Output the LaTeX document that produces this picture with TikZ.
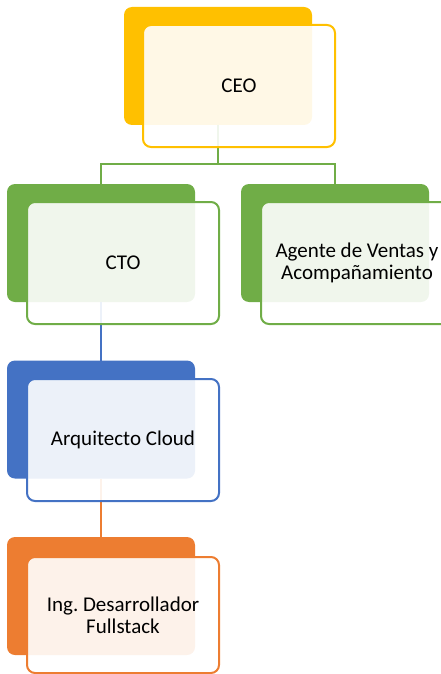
\documentclass[tikz,border=0pt]{standalone}
\usepackage{fontspec}
\setmainfont{Carlito}
\definecolor{cgold}{HTML}{FFC000}
\definecolor{cgreen}{HTML}{70AD47}
\definecolor{cblue}{HTML}{4472C4}
\definecolor{corange}{HTML}{ED7D31}
\begin{document}
\begin{tikzpicture}[x=1pt,y=-1pt,
  backbox/.style={rectangle, rounded corners=8pt, fill=#1, draw=none,
    minimum width=188pt, minimum height=118pt, inner sep=0pt, outer sep=0pt},
  frontbox/.style={rectangle, rounded corners=8pt, draw=#1, line width=2pt,
    fill=white, fill opacity=0.9, text opacity=1, text=black,
    minimum width=192pt, minimum height=122pt, inner sep=2pt, outer sep=0pt,
    align=center, font=\fontsize{21}{22}\selectfont},
  link/.style={draw=#1, line width=2pt}]
\useasboundingbox (0,0) rectangle (441,674);
\clip (0,0) rectangle (441,674);

% coloured back cards
\node[backbox=cgold]   (ceoB) at (218,66)    {};
\node[backbox=cgreen]  (ctoB) at (101,243)   {};
\node[backbox=cgreen]  (agB)  at (335,243)   {};
\node[backbox=cblue]   (arqB) at (101,419.5) {};
\node[backbox=corange] (ingB) at (101,596)   {};

% reporting lines
\draw[link=cgreen]  (ceoB.south) -- ++(0,39) -| (ctoB.north);
\draw[link=cgreen]  (ceoB.south) -- ++(0,39) -| (agB.north);
\draw[link=cblue]   (ctoB.south) -- (arqB.north);
\draw[link=corange] (arqB.south) -- (ingB.north);

% translucent front cards with the titles
\node[frontbox=cgold]   (ceo) at (239,86)  {CEO};
\node[frontbox=cgreen]  (cto) at (123,263) {CTO};
\node[frontbox=cgreen]  (ag)  at (357,263) {Agente de Ventas y\\Acompañamiento};
\node[frontbox=cblue]   (arq) at (123,440) {Arquitecto Cloud};
\node[frontbox=corange, minimum height=116pt] (ing) at (123,615) {Ing.\ Desarrollador\\Fullstack};
\end{tikzpicture}
\end{document}
